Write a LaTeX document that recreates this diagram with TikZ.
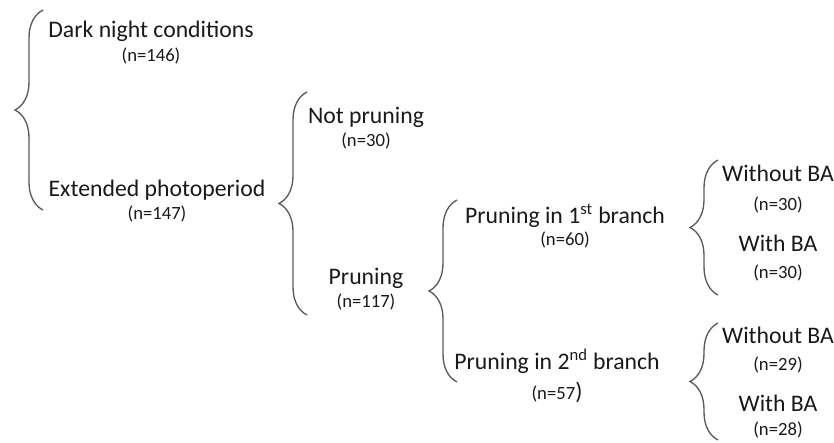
\documentclass[tikz,border=0pt]{standalone}
\usepackage{fontspec}
\setmainfont{Carlito}
\usetikzlibrary{positioning, decorations.pathreplacing}
\definecolor{braceGray}{RGB}{90,90,90}
\definecolor{labelBlack}{RGB}{25,25,25}

\begin{document}
\begin{tikzpicture}[
    x=0.75pt, y=-0.75pt,
    group/.style={inner sep=0pt, text=labelBlack, font=\fontsize{17.8}{20}\selectfont, text height=12.5pt, text depth=3.5pt},
    count/.style={inner sep=0pt, text=labelBlack, font=\fontsize{14}{16}\selectfont, text height=10pt, text depth=3pt},
    bracket/.style={decorate, decoration={brace, amplitude=21pt}, draw=braceGray, line width=1pt}
]
\useasboundingbox (0,0) rectangle (834,442);

% First split: light treatment
\node[group] (dark) at (151,32) {Dark night conditions};
\node[count, below=3.5pt of dark] (darkN) {(n=146)};
\node[group] (extended) at (157,190) {Extended photoperiod};
\node[count, below=3.5pt of extended] (extendedN) {(n=147)};

% Second split: pruning
\node[group] (notpruning) at (366,117) {Not pruning};
\node[count, below=4pt of notpruning] (notpruningN) {(n=30)};
\node[group] (pruning) at (366,278) {Pruning};
\node[count, below=3.5pt of pruning] (pruningN) {(n=117)};

% Third split: branch
\node[group] (first) at (565,217) {Pruning in 1\textsuperscript{st} branch};
\node[count, below=3pt of first] (firstN) {(n=60)};
\node[group] (second) at (557,363) {Pruning in 2\textsuperscript{nd} branch};
\node[count, below=9pt of second] (secondN) {(n=57{\fontsize{17.8}{20}\selectfont)}};

% Fourth split: BA
\node[group] (firstNoBA) at (778,175) {Without BA};
\node[count, below=8pt of firstNoBA] (firstNoBAN) {(n=30)};
\node[group] (firstBA) at (778,245) {With BA};
\node[count, below=6.5pt of firstBA] (firstBAN) {(n=30)};
\node[group] (secondNoBA) at (778,337) {Without BA};
\node[count, below=6.5pt of secondNoBA] (secondNoBAN) {(n=29)};
\node[group] (secondBA) at (778,405) {With BA};
\node[count, below=4.5pt of secondBA] (secondBAN) {(n=28)};

% Braces
\coordinate (b1top) at (43,10);   \coordinate (b1bot) at (43,210);
\coordinate (b2top) at (307,92);  \coordinate (b2bot) at (307,315);
\coordinate (b3top) at (457,200); \coordinate (b3bot) at (457,382);
\coordinate (b4top) at (718,160); \coordinate (b4bot) at (718,295);
\coordinate (b5top) at (718,323); \coordinate (b5bot) at (718,440);
\draw[bracket] (b1bot) -- (b1top);
\draw[bracket] (b2bot) -- (b2top);
\draw[bracket] (b3bot) -- (b3top);
\draw[bracket] (b4bot) -- (b4top);
\draw[bracket] (b5bot) -- (b5top);

\end{tikzpicture}
\end{document}
